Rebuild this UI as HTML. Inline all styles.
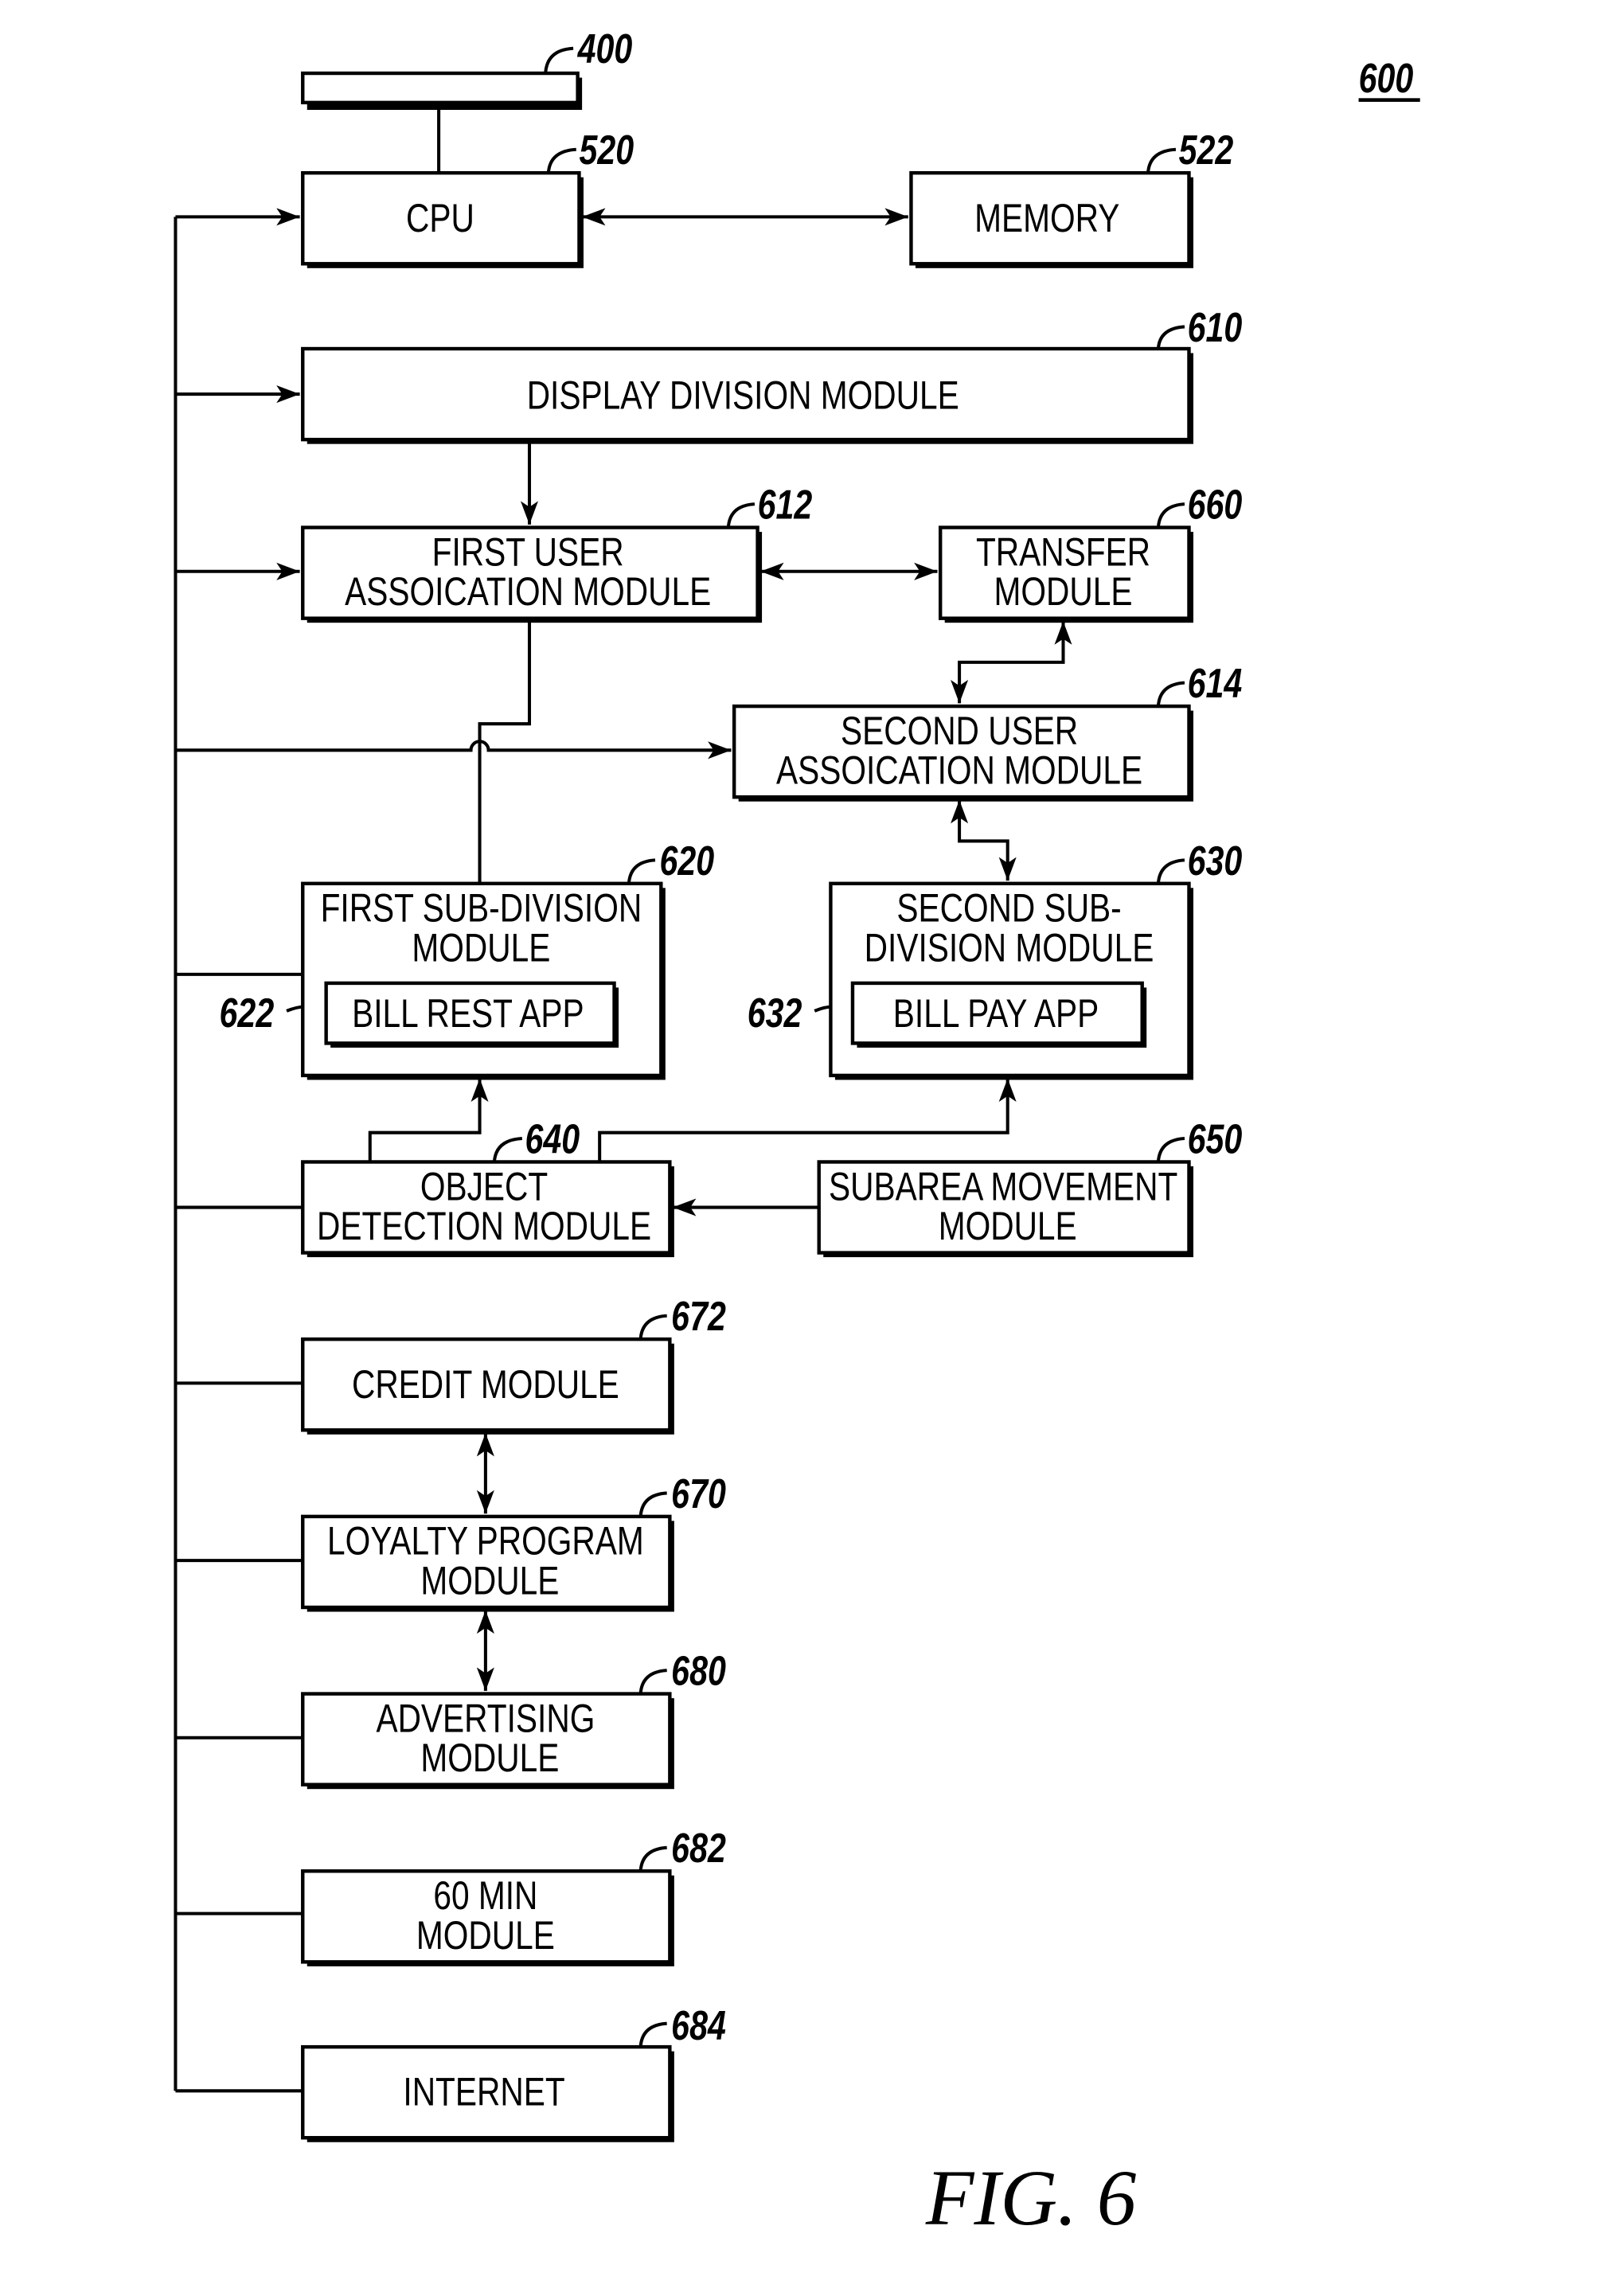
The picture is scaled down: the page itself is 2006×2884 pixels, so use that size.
<!DOCTYPE html>
<html><head><meta charset="utf-8"><style>
html,body{margin:0;padding:0;background:#fff}
svg{display:block}
.t{font-family:"Liberation Sans Narrow","Liberation Sans",sans-serif;font-size:27px;text-anchor:middle;fill:#000}
.r{font-family:"Liberation Sans Narrow","Liberation Sans",sans-serif;font-size:28px;font-style:italic;font-weight:bold;fill:#000}
</style></head><body>
<svg width="2006" height="2884" viewBox="0 0 1092 1567" preserveAspectRatio="none" xmlns="http://www.w3.org/2000/svg">
<defs>
<marker id="a" viewBox="0 0 16 12" refX="16" refY="6" markerWidth="16" markerHeight="12" markerUnits="userSpaceOnUse" orient="auto-start-reverse"><path d="M0,0 L16,6 L0,12 L4,6 Z" fill="#000"/></marker>
</defs>
<rect width="1092" height="1567" fill="#fff"/>
<g stroke="#000" stroke-width="2.2" fill="none">
<path d="M120,148 V1427"/>
<path d="M120,148 H205" marker-end="url(#a)"/>
<path d="M120,269 H205" marker-end="url(#a)"/>
<path d="M120,390 H205" marker-end="url(#a)"/>
<path d="M120,512 H322 A6,6 0 0 1 334,512 H500" marker-end="url(#a)"/>
<path d="M120,665 H207 M120,824 H207 M120,944 H207 M120,1065 H207 M120,1186 H207 M120,1306 H207 M120,1427 H207"/>
<path d="M300,72 V118"/>
<path d="M398,148 H621" marker-start="url(#a)" marker-end="url(#a)"/>
<path d="M362,302 V358" marker-end="url(#a)"/>
<path d="M520,390 H641" marker-start="url(#a)" marker-end="url(#a)"/>
<path d="M727,424 V452 H656 V480" marker-start="url(#a)" marker-end="url(#a)"/>
<path d="M362,424 V494 H328 V603"/>
<path d="M656,546 V574 H689 V601" marker-start="url(#a)" marker-end="url(#a)"/>
<path d="M253,793 V773 H328 V736" marker-end="url(#a)"/>
<path d="M410,793 V773 H689 V736" marker-end="url(#a)"/>
<path d="M560,824 H460" marker-end="url(#a)"/>
<path d="M332,978 V1033" marker-start="url(#a)" marker-end="url(#a)"/>
<path d="M332,1099 V1154" marker-start="url(#a)" marker-end="url(#a)"/>
<path d="M373,50 Q374,34 392,33"/>
<path d="M375,118 Q376,103 394,102"/>
<path d="M785,118 Q786,103 804,102"/>
<path d="M792,238 Q793,224 810,223"/>
<path d="M498,360 Q499,345 516,344"/>
<path d="M792,360 Q793,345 810,344"/>
<path d="M792,482 Q793,467 810,466"/>
<path d="M430,603 Q431,588 448,587"/>
<path d="M792,603 Q793,588 810,587"/>
<path d="M338,793 Q339,778 357,777"/>
<path d="M792,793 Q793,778 810,777"/>
<path d="M438,914 Q439,899 456,898"/>
<path d="M438,1035 Q439,1020 456,1019"/>
<path d="M438,1156 Q439,1141 456,1140"/>
<path d="M438,1277 Q439,1262 456,1261"/>
<path d="M438,1397 Q439,1382 456,1381"/>
<path d="M196,690 Q210,684 223,690"/>
<path d="M557,690 Q571,684 583,690"/>
</g>
<g fill="#000">
<rect x="210" y="53" width="188" height="22"/>
<rect x="210" y="121" width="189" height="62"/>
<rect x="626" y="121" width="190" height="62"/>
<rect x="210" y="241" width="606" height="62"/>
<rect x="210" y="363" width="311" height="62"/>
<rect x="646" y="363" width="170" height="62"/>
<rect x="505" y="485" width="311" height="62"/>
<rect x="210" y="606" width="245" height="131"/>
<rect x="571" y="606" width="245" height="131"/>
<rect x="210" y="796" width="251" height="62"/>
<rect x="563" y="796" width="253" height="62"/>
<rect x="210" y="917" width="251" height="62"/>
<rect x="210" y="1038" width="251" height="62"/>
<rect x="210" y="1159" width="251" height="62"/>
<rect x="210" y="1280" width="251" height="62"/>
<rect x="210" y="1400" width="251" height="62"/>
</g>
<g fill="#fff" stroke="#000" stroke-width="2.4">
<rect x="207" y="50" width="188" height="20"/>
<rect x="207" y="118" width="189" height="62"/>
<rect x="623" y="118" width="190" height="62"/>
<rect x="207" y="238" width="606" height="62"/>
<rect x="207" y="360" width="311" height="62"/>
<rect x="643" y="360" width="170" height="62"/>
<rect x="502" y="482" width="311" height="62"/>
<rect x="207" y="603" width="245" height="131"/>
<rect x="568" y="603" width="245" height="131"/>
<rect x="207" y="793" width="251" height="62"/>
<rect x="560" y="793" width="253" height="62"/>
<rect x="207" y="914" width="251" height="62"/>
<rect x="207" y="1035" width="251" height="62"/>
<rect x="207" y="1156" width="251" height="62"/>
<rect x="207" y="1277" width="251" height="62"/>
<rect x="207" y="1397" width="251" height="62"/>
</g>
<g fill="#000"><rect x="226" y="674" width="197" height="41"/><rect x="586" y="674" width="198" height="41"/></g>
<g fill="#fff" stroke="#000" stroke-width="2.4">
<rect x="223" y="671" width="197" height="41"/>
<rect x="583" y="671" width="198" height="41"/>
</g>
<g class="t">
<text transform="translate(301,158) scale(.82,1)">CPU</text>
<text transform="translate(716,158) scale(.82,1)">MEMORY</text>
<text transform="translate(508,279) scale(.82,1)">DISPLAY DIVISION MODULE</text>
<text transform="translate(361,386) scale(.82,1)">FIRST USER</text>
<text transform="translate(361,413) scale(.82,1)">ASSOICATION MODULE</text>
<text transform="translate(727,386) scale(.82,1)">TRANSFER</text>
<text transform="translate(727,413) scale(.82,1)">MODULE</text>
<text transform="translate(656,508) scale(.82,1)">SECOND USER</text>
<text transform="translate(656,535) scale(.82,1)">ASSOICATION MODULE</text>
<text transform="translate(329,629) scale(.82,1)">FIRST SUB-DIVISION</text>
<text transform="translate(329,656) scale(.82,1)">MODULE</text>
<text transform="translate(320,701) scale(.82,1)">BILL REST APP</text>
<text transform="translate(690,629) scale(.82,1)">SECOND SUB-</text>
<text transform="translate(690,656) scale(.82,1)">DIVISION MODULE</text>
<text transform="translate(681,701) scale(.82,1)">BILL PAY APP</text>
<text transform="translate(331,819) scale(.82,1)">OBJECT</text>
<text transform="translate(331,846) scale(.82,1)">DETECTION MODULE</text>
<text transform="translate(686,819) scale(.82,1)">SUBAREA MOVEMENT</text>
<text transform="translate(689,846) scale(.82,1)">MODULE</text>
<text transform="translate(332,954) scale(.82,1)">CREDIT MODULE</text>
<text transform="translate(332,1061) scale(.82,1)">LOYALTY PROGRAM</text>
<text transform="translate(335,1088) scale(.82,1)">MODULE</text>
<text transform="translate(332,1182) scale(.82,1)">ADVERTISING</text>
<text transform="translate(335,1209) scale(.82,1)">MODULE</text>
<text transform="translate(332,1303) scale(.82,1)">60 MIN</text>
<text transform="translate(332,1330) scale(.82,1)">MODULE</text>
<text transform="translate(331,1437) scale(.82,1)">INTERNET</text>
</g>
<g class="r">
<text transform="translate(395,43) scale(.8,1)">400</text>
<text transform="translate(396,112) scale(.8,1)">520</text>
<text transform="translate(806,112) scale(.8,1)">522</text>
<text transform="translate(812,233) scale(.8,1)">610</text>
<text transform="translate(518,354) scale(.8,1)">612</text>
<text transform="translate(812,354) scale(.8,1)">660</text>
<text transform="translate(812,476) scale(.8,1)">614</text>
<text transform="translate(451,597) scale(.8,1)">620</text>
<text transform="translate(812,597) scale(.8,1)">630</text>
<text transform="translate(359,787) scale(.8,1)">640</text>
<text transform="translate(812,787) scale(.8,1)">650</text>
<text transform="translate(459,908) scale(.8,1)">672</text>
<text transform="translate(459,1029) scale(.8,1)">670</text>
<text transform="translate(459,1150) scale(.8,1)">680</text>
<text transform="translate(459,1271) scale(.8,1)">682</text>
<text transform="translate(459,1392) scale(.8,1)">684</text>
<text transform="translate(150,701) scale(.8,1)">622</text>
<text transform="translate(511,701) scale(.8,1)">632</text>
<text transform="translate(929,63) scale(.8,1)">600</text>
</g>
<rect x="929" y="67" width="42" height="2.5" fill="#000"/>
<text x="705" y="1518" text-anchor="middle" font-family="Liberation Serif,serif" font-style="italic" font-size="54">FIG. 6</text>
</svg>
</body></html>
